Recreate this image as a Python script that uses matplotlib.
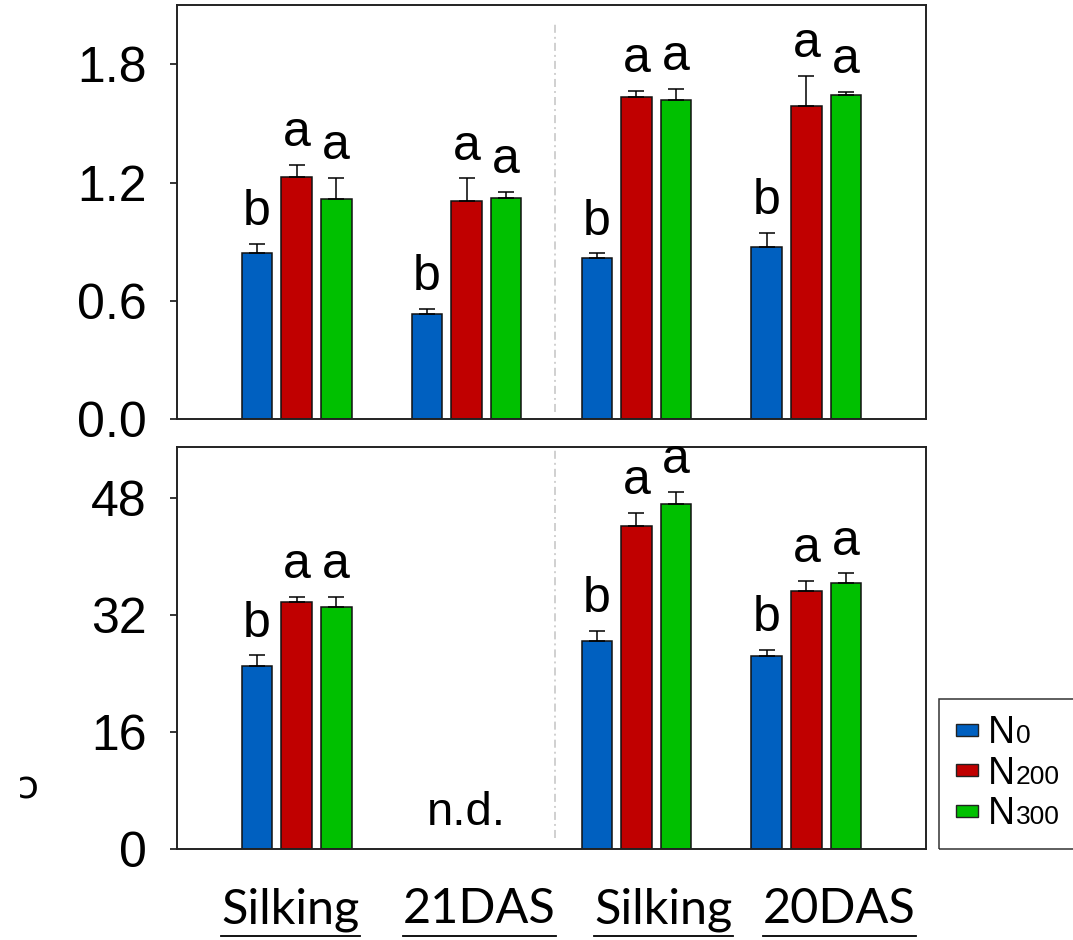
import numpy as np
import matplotlib
matplotlib.use("Agg")
import matplotlib.pyplot as plt
import matplotlib.transforms as mtransforms
from matplotlib.patches import Patch, Rectangle
from matplotlib.lines import Line2D

plt.rcParams["font.family"] = ["Liberation Sans", "DejaVu Sans"]
plt.rcParams["lines.scale_dashes"] = False

# ---- data -------------------------------------------------------------
stages = ["Silking", "21DAS", "Silking", "20DAS"]
treat_base = "N"
treat_sub = ["0", "200", "300"]
colors = ["#0060C0", "#C00000", "#00C000"]

# upper panel
top_n0 = [0.843, 0.534, 0.819, 0.873]
top_n0_err = [0.045, 0.025, 0.022, 0.073]
top_n200 = [1.229, 1.106, 1.633, 1.588]
top_n200_err = [0.060, 0.115, 0.032, 0.152]
top_n300 = [1.115, 1.121, 1.618, 1.643]
top_n300_err = [0.110, 0.030, 0.057, 0.017]
top_letters = [["b", "b", "b", "b"], ["a", "a", "a", "a"], ["a", "a", "a", "a"]]

# lower panel (second stage not determined)
bot_n0 = [25.1, np.nan, 28.5, 26.4]
bot_n0_err = [1.4, np.nan, 1.3, 0.8]
bot_n200 = [33.8, np.nan, 44.2, 35.3]
bot_n200_err = [0.7, np.nan, 1.8, 1.4]
bot_n300 = [33.1, np.nan, 47.2, 36.4]
bot_n300_err = [1.4, np.nan, 1.6, 1.3]
bot_letters = [["b", "", "b", "b"], ["a", "", "a", "a"], ["a", "", "a", "a"]]

top_ticks = [0.0, 0.6, 1.2, 1.8]
bot_ticks = [0, 16, 32, 48]

# ---- figure -----------------------------------------------------------
W, H = 1073, 940
fig = plt.figure(figsize=(W / 100, H / 100), dpi=100)
ax_top = fig.add_axes([177 / W, 1 - 419.3 / H, 749 / W, 414.3 / H])
ax_bot = fig.add_axes([177 / W, 1 - 849.3 / H, 749 / W, 402.6 / H])

x = np.arange(len(stages))
step = 0.2335
width = 0.18
edge_lw = 1.1


def draw_panel(ax, series, errs, letters, ylim, ticks, fmt, divider):
    for k, (vals, err) in enumerate(zip(series, errs)):
        vals = np.asarray(vals, float)
        err = np.asarray(err, float)
        ok = np.isfinite(vals)
        xs = x[ok] + (k - 1) * step
        ax.bar(xs, vals[ok], width=width, color=colors[k],
               edgecolor="#111111", linewidth=edge_lw, zorder=2)
        ax.errorbar(xs, vals[ok], yerr=[np.zeros(ok.sum()), err[ok]],
                    fmt="none", ecolor="black", elinewidth=1.1,
                    capsize=6, capthick=1.1, zorder=3)
        for xi, v, e, lab in zip(xs, vals[ok], err[ok],
                                 np.asarray(letters[k])[ok]):
            ax.annotate(lab, xy=(xi, v + e), xytext=(0, 13.5),
                        textcoords="offset points", ha="center",
                        va="baseline", fontsize=36)
    ax.axvline(1.52, ymin=divider[0], ymax=divider[1], color="#c4c4c4",
               lw=1.1, linestyle=(0, (5.8, 2.9, 1.4, 2.9)), zorder=1)
    ax.set_xlim(-0.703, 3.703)
    ax.set_ylim(*ylim)
    ax.set_yticks(ticks)
    ax.set_yticklabels([fmt.format(t) for t in ticks])
    ax.set_xticks([])
    ax.tick_params(axis="y", direction="out", length=5, width=1.1,
                   pad=17, labelsize=36)
    for s in ax.spines.values():
        s.set_linewidth(1.4)
        s.set_color("#222222")


draw_panel(ax_top, [top_n0, top_n200, top_n300],
           [top_n0_err, top_n200_err, top_n300_err], top_letters,
           (0, 2.1), top_ticks, "{:.1f}", (0.018, 0.957))
draw_panel(ax_bot, [bot_n0, bot_n200, bot_n300],
           [bot_n0_err, bot_n200_err, bot_n300_err], bot_letters,
           (0, 55), bot_ticks, "{:.0f}", (0.028, 0.992))

ax_bot.text(1.0, 3.3, "n.d.", ha="center", va="baseline", fontsize=34)

# stage labels under the lower panel, underlined
label_x = [-0.036, 1.076, 2.159, 3.194]
xfig = mtransforms.blended_transform_factory(ax_bot.transData, fig.transFigure)
stage_texts = []
for lx, name in zip(label_x, stages):
    t = ax_bot.text(lx, 1 - 923 / H, name, transform=xfig,
                    ha="center", va="baseline", fontsize=35, family="Lato",
                    clip_on=False)
    stage_texts.append(t)

# cropped axis-title fragment at the far left
fig.text(24 / W, 1 - 785 / H, "c", rotation=180, fontsize=28,
         ha="center", va="center", family="DejaVu Sans")

# legend
handles = [Patch(facecolor=c, edgecolor="#222222", linewidth=1.0) for c in colors]
leg = fig.legend(handles, [treat_base] * 3, loc="lower left",
                 bbox_to_anchor=(939 / W, 1 - 849.3 / H), borderaxespad=0,
                 fontsize=27, frameon=True, fancybox=False,
                 handlelength=0.6, handleheight=0.115, handletextpad=0.25,
                 labelspacing=0.12, borderpad=0.45)

fig.canvas.draw()
renderer = fig.canvas.get_renderer()

# underline each stage label
for t in stage_texts:
    bb = t.get_window_extent(renderer)
    fig.add_artist(Line2D([bb.x0 / W, bb.x1 / W], [1 - 936 / H] * 2,
                          transform=fig.transFigure, color="black", lw=1.3))

# legend frame continues past the right border of the figure
lb = leg.get_window_extent(renderer)
leg.get_frame().set_visible(False)
fig.add_artist(Rectangle((lb.x0 / W, lb.y0 / H), (W + 30 - lb.x0) / W,
                         lb.height / H, transform=fig.transFigure,
                         fill=False, edgecolor="#333333", lw=1.1,
                         clip_on=False))

# smaller numbers after the N of each legend entry, sharing its baseline
for t, sub in zip(leg.get_texts(), treat_sub):
    bb = t.get_window_extent(renderer)
    # text boxes reserve the descent of "lp" below the baseline
    _, _, descent = renderer.get_text_width_height_descent(
        "lp", t.get_fontproperties(), ismath=False)
    fig.text((bb.x1 + 1) / W, (bb.y0 + descent) / H, sub,
             ha="left", va="baseline", fontsize=19,
             family=["Liberation Sans", "DejaVu Sans"])

fig.savefig("out.png", dpi=100)
